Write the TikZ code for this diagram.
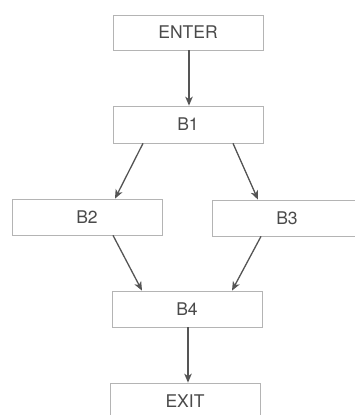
\documentclass[tikz,border=0pt]{standalone}
\usepackage{fontspec}
\setmainfont{TeX Gyre Heros}
\usetikzlibrary{arrows.meta}
\definecolor{boxline}{HTML}{B4B4B4}
\definecolor{inktext}{HTML}{4A4A4A}
\definecolor{inkarrow}{HTML}{555555}
\begin{document}
\begin{tikzpicture}[x=1pt,y=-1pt,
  block/.style={draw=boxline, line width=0.7pt, rectangle, minimum width=150pt,
    minimum height=36pt, inner sep=0pt, text=inktext,
    font=\fontsize{17.5}{20}\selectfont},
  flow/.style={draw=inkarrow, line width=1.3pt,
    -{Stealth[length=9pt,width=7.5pt,inset=2.5pt]}}]
  \useasboundingbox (0,0) rectangle (355,415);
  \clip (0,0) rectangle (355,415);
  \fill[white] (0,0) rectangle (355,415);
  % blocks of the flow graph
  \node[block, minimum height=35pt] (enter) at (188,32.5) {ENTER};
  \node[block, minimum height=37pt] (b1) at (188,124.5) {B1};
  \node[block] (b2) at (87,217) {B2};
  \node[block] (b3) at (287,218) {B3};
  \node[block] (b4) at (187,309) {B4};
  \node[block] (exit) at (185,401) {EXIT};
  % edges
  \draw[flow] (enter.south -| 189,0) -- (b1.north -| 189,0);
  \draw[flow] ([xshift=-45pt]b1.south) -- ([xshift=28pt]b2.north);
  \draw[flow] ([xshift=45pt]b1.south) -- ([xshift=-29pt]b3.north);
  \draw[flow] ([xshift=26pt]b2.south) -- ([xshift=-45pt]b4.north);
  \draw[flow] ([xshift=-26pt]b3.south) -- ([xshift=45pt]b4.north);
  \draw[flow] (b4.south -| 188,0) -- (exit.north -| 188,0);
\end{tikzpicture}
\end{document}
